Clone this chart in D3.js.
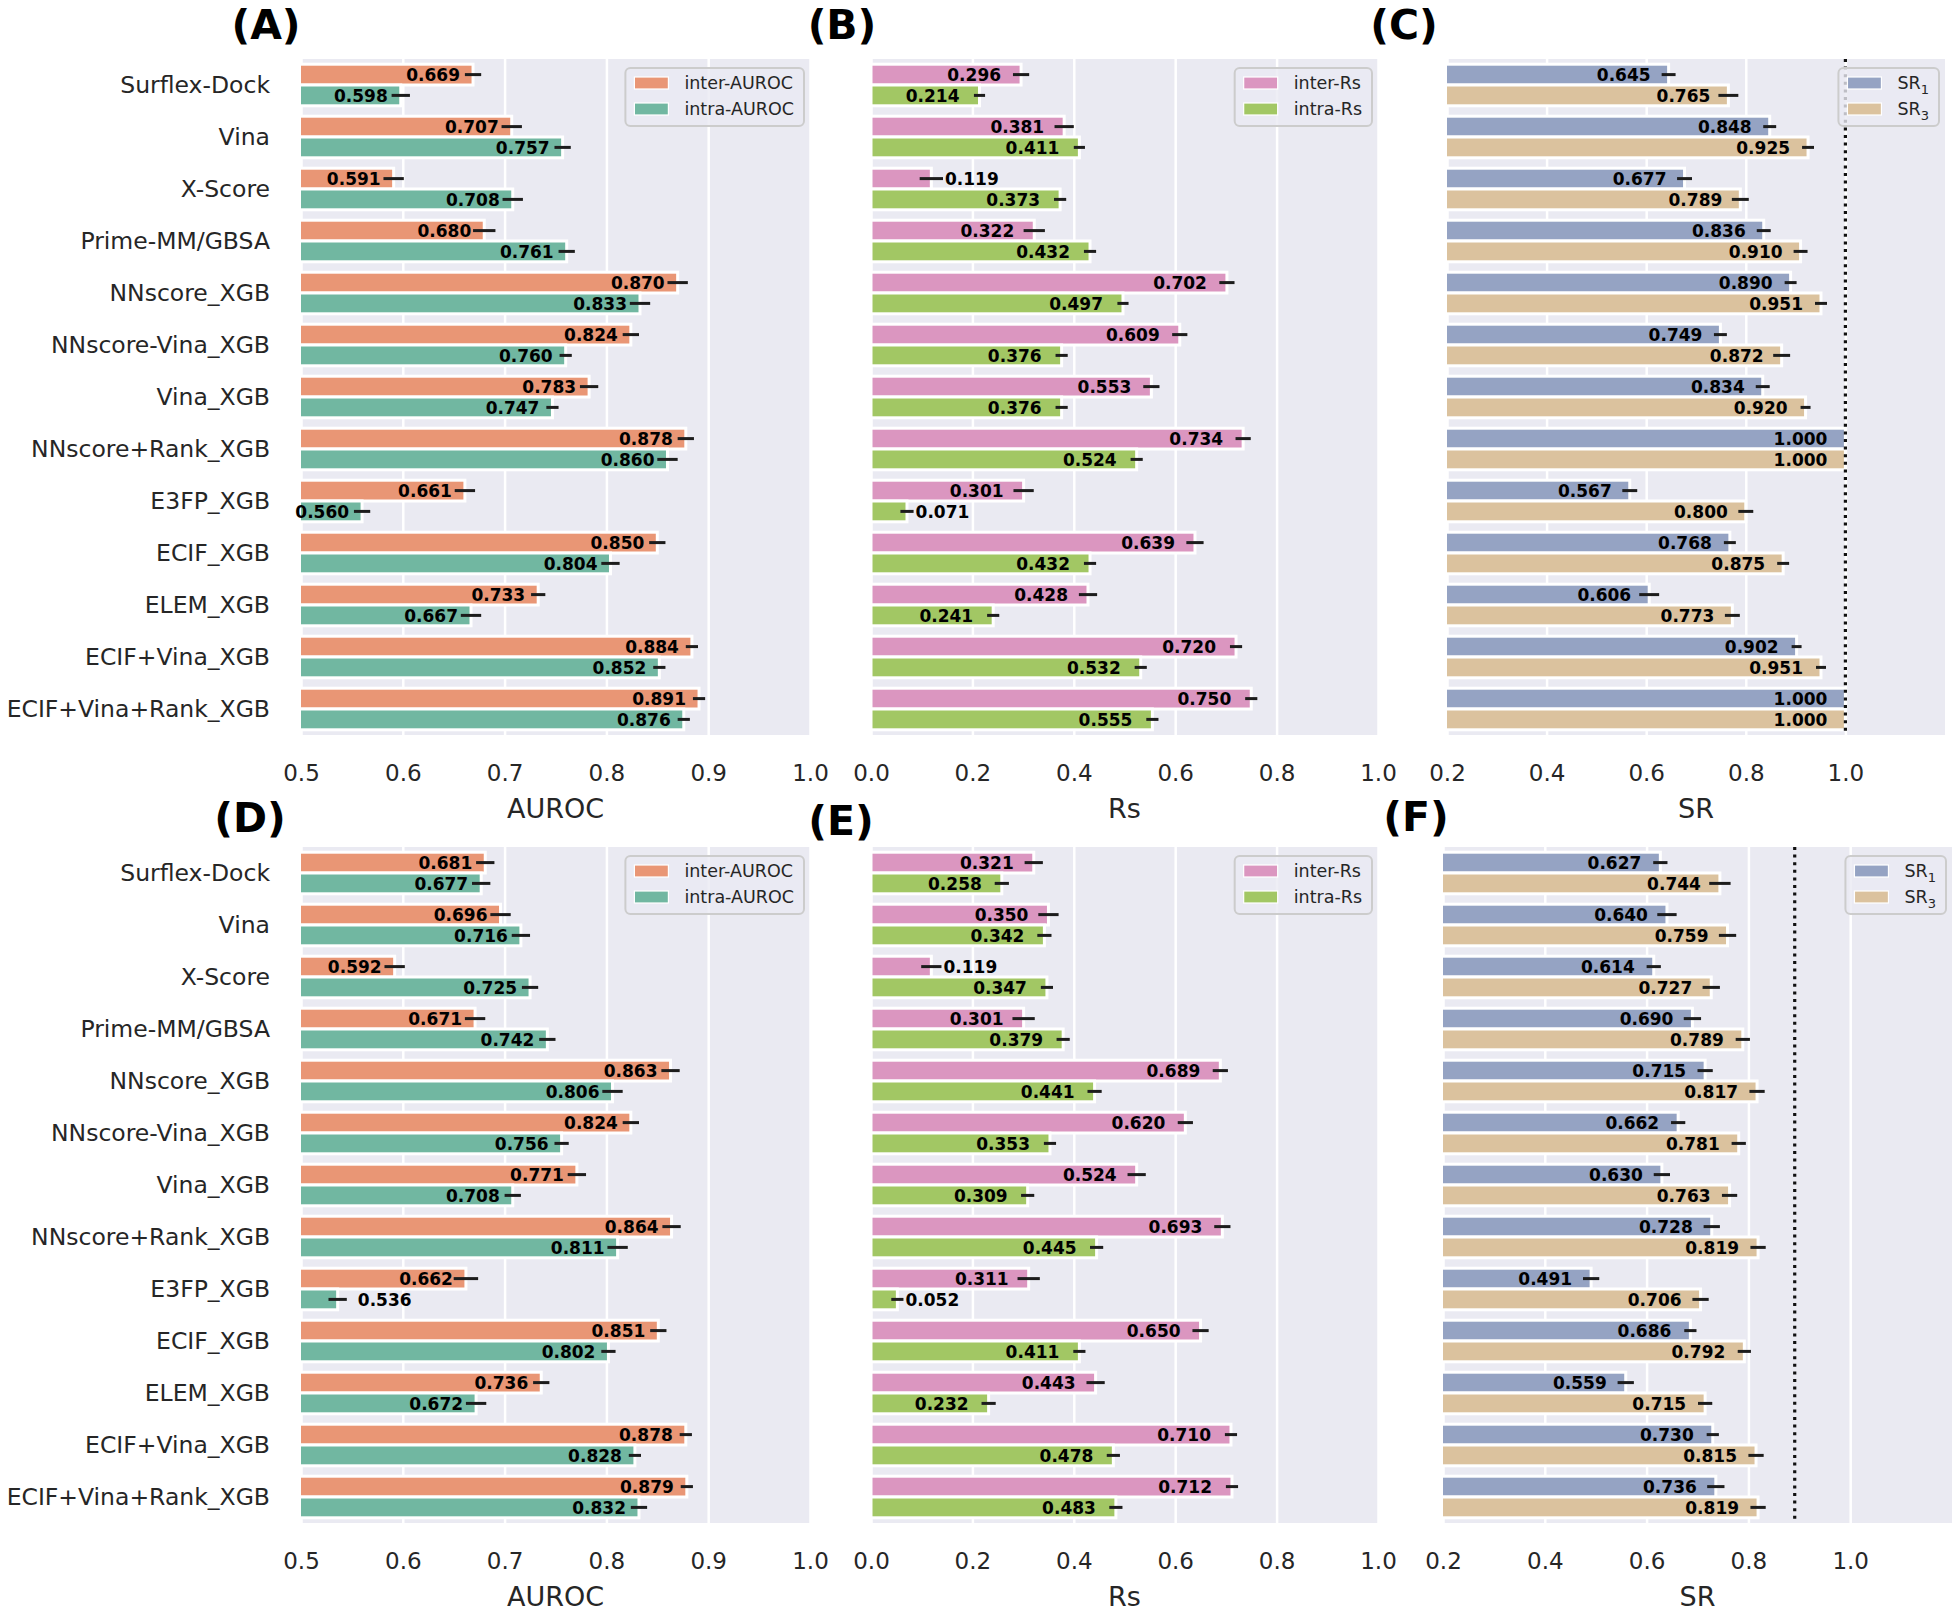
<!DOCTYPE html>
<html><head><meta charset="utf-8">
<script src="https://cdn.jsdelivr.net/npm/d3@7"></script>
<style>body{margin:0;background:#fff}svg{display:block}text{font-family:"DejaVu Sans",sans-serif}</style>
</head><body><svg id="chart" width="1960" height="1613"></svg>
<script>
// ---------------- data ----------------
const categories = ["Surflex-Dock","Vina","X-Score","Prime-MM/GBSA","NNscore_XGB","NNscore-Vina_XGB","Vina_XGB","NNscore+Rank_XGB","E3FP_XGB","ECIF_XGB","ELEM_XGB","ECIF+Vina_XGB","ECIF+Vina+Rank_XGB"];

// (A) AUROC, set 1
const aInter    = [0.669,0.707,0.591,0.680,0.870,0.824,0.783,0.878,0.661,0.850,0.733,0.884,0.891];
const aInterErr = [0.008,0.010,0.010,0.011,0.010,0.008,0.009,0.008,0.010,0.008,0.007,0.006,0.006];
const aIntra    = [0.598,0.757,0.708,0.761,0.833,0.760,0.747,0.860,0.560,0.804,0.667,0.852,0.876];
const aIntraErr = [0.009,0.008,0.010,0.008,0.010,0.006,0.006,0.010,0.008,0.009,0.010,0.006,0.006];
// (B) Rs, set 1
const bInter    = [0.296,0.381,0.119,0.322,0.702,0.609,0.553,0.734,0.301,0.639,0.428,0.720,0.750];
const bInterErr = [0.016,0.019,0.023,0.021,0.015,0.015,0.016,0.015,0.020,0.017,0.018,0.012,0.012];
const bIntra    = [0.214,0.411,0.373,0.432,0.497,0.376,0.376,0.524,0.071,0.432,0.241,0.532,0.555];
const bIntraErr = [0.011,0.011,0.012,0.012,0.011,0.012,0.012,0.012,0.013,0.012,0.012,0.012,0.012];
// (C) SR, set 1
const cSR1      = [0.645,0.848,0.677,0.836,0.890,0.749,0.834,1.000,0.567,0.768,0.606,0.902,1.000];
const cSR1Err   = [0.014,0.013,0.015,0.014,0.012,0.013,0.014,0.000,0.015,0.012,0.020,0.010,0.000];
const cSR3      = [0.765,0.925,0.789,0.910,0.951,0.872,0.920,1.000,0.800,0.875,0.773,0.951,1.000];
const cSR3Err   = [0.020,0.012,0.017,0.014,0.012,0.017,0.010,0.000,0.015,0.012,0.015,0.010,0.000];
// (D) AUROC, set 2
const dInter    = [0.681,0.696,0.592,0.671,0.863,0.824,0.771,0.864,0.662,0.851,0.736,0.878,0.879];
const dInterErr = [0.009,0.010,0.010,0.010,0.009,0.008,0.009,0.009,0.012,0.008,0.008,0.006,0.006];
const dIntra    = [0.677,0.716,0.725,0.742,0.806,0.756,0.708,0.811,0.536,0.802,0.672,0.828,0.832];
const dIntraErr = [0.009,0.009,0.008,0.008,0.010,0.007,0.008,0.010,0.009,0.007,0.010,0.006,0.008];
// (E) Rs, set 2
const eInter    = [0.321,0.350,0.119,0.301,0.689,0.620,0.524,0.693,0.311,0.650,0.443,0.710,0.712];
const eInterErr = [0.018,0.020,0.020,0.022,0.015,0.015,0.018,0.016,0.022,0.016,0.018,0.012,0.012];
const eIntra    = [0.258,0.342,0.347,0.379,0.441,0.353,0.309,0.445,0.052,0.411,0.232,0.478,0.483];
const eIntraErr = [0.014,0.014,0.012,0.013,0.014,0.012,0.013,0.013,0.012,0.012,0.014,0.013,0.013];
// (F) SR, set 2
const fSR1      = [0.627,0.640,0.614,0.690,0.715,0.662,0.630,0.728,0.491,0.686,0.559,0.730,0.736];
const fSR1Err   = [0.014,0.019,0.014,0.017,0.015,0.014,0.016,0.016,0.016,0.012,0.016,0.012,0.017];
const fSR3      = [0.744,0.759,0.727,0.789,0.817,0.781,0.763,0.819,0.706,0.792,0.715,0.815,0.819];
const fSR3Err   = [0.021,0.017,0.017,0.014,0.015,0.014,0.015,0.015,0.016,0.013,0.014,0.015,0.015];

const ticksAUROC = [0.5,0.6,0.7,0.8,0.9,1.0];
const ticksRs    = [0.0,0.2,0.4,0.6,0.8,1.0];
const ticksSR    = [0.2,0.4,0.6,0.8,1.0];
const namesAUROC = [["inter-AUROC",""],["intra-AUROC",""]];
const namesRs    = [["inter-Rs",""],["intra-Rs",""]];
const namesSR    = [["SR","1"],["SR","3"]];
const refLineC = 1.0;
const refLineF = 0.891;

// ---------------- layout / style ----------------
const colAUROC = ["#E99675","#71B7A1"];
const colRs    = ["#DB96C0","#A2C764"];
const colSR    = ["#95A3C3","#DBC29E"];
const BAND = 52;
const TOP1 = 59, TOP2 = 847;

const panels = [
  {letter:"(A)", lx:266, ly:26, x0:301, x1:810, y0:TOP1, domain:[0.5,1.0], ticks:ticksAUROC, title:"AUROC", names:namesAUROC, colors:colAUROC, vals:[aInter,aIntra], errs:[aInterErr,aIntraErr], labOff:13, outsideBelow:0.55, outGap:11, ylabels:true, ref:null},
  {letter:"(B)", lx:842, ly:26, x0:871, x1:1378, y0:TOP1, domain:[0.0,1.0], ticks:ticksRs, title:"Rs", names:namesRs, colors:colRs, vals:[bInter,bIntra], errs:[bInterErr,bIntraErr], labOff:20, outsideBelow:0.15, outGap:2, ylabels:false, ref:null},
  {letter:"(C)", lx:1404, ly:26, x0:1447, x1:1945, y0:TOP1, domain:[0.2,1.2], ticks:ticksSR, title:"SR", names:namesSR, colors:colSR, vals:[cSR1,cSR3], errs:[cSR1Err,cSR3Err], labOff:18, outsideBelow:0.3, outGap:4, ylabels:false, ref:refLineC},
  {letter:"(D)", lx:250, ly:819, x0:301, x1:810, y0:TOP2, domain:[0.5,1.0], ticks:ticksAUROC, title:"AUROC", names:namesAUROC, colors:colAUROC, vals:[dInter,dIntra], errs:[dInterErr,dIntraErr], labOff:13, outsideBelow:0.55, outGap:11, ylabels:true, ref:null},
  {letter:"(E)", lx:841, ly:822, x0:871, x1:1378, y0:TOP2, domain:[0.0,1.0], ticks:ticksRs, title:"Rs", names:namesRs, colors:colRs, vals:[eInter,eIntra], errs:[eInterErr,eIntraErr], labOff:20, outsideBelow:0.15, outGap:2, ylabels:false, ref:null},
  {letter:"(F)", lx:1416, ly:818, x0:1443, x1:1952, y0:TOP2, domain:[0.2,1.2], ticks:ticksSR, title:"SR", names:namesSR, colors:colSR, vals:[fSR1,fSR3], errs:[fSR1Err,fSR3Err], labOff:19, outsideBelow:0.3, outGap:4, ylabels:false, ref:refLineF}
];

const svg = d3.select("#chart");
const defs = svg.append("defs");

panels.forEach((p, pi) => {
  const H = BAND * categories.length;
  const y1 = p.y0 + H;
  const x = d3.scaleLinear().domain(p.domain).range([p.x0, p.x1]);
  const y = d3.scaleBand().domain(categories).range([p.y0, y1]);
  const sub = d3.scaleBand().domain([0,1]).range([0.1*y.bandwidth(), 0.9*y.bandwidth()]);
  const g = svg.append("g");

  // background
  g.append("rect").attr("x", p.x0).attr("y", p.y0).attr("width", p.x1 - p.x0).attr("height", H).attr("fill", "#EAEAF2");

  // grid
  const grid = g.append("g").attr("transform", `translate(0,${y1})`)
    .call(d3.axisBottom(x).tickValues(p.ticks).tickSize(-H).tickFormat(""));
  grid.select(".domain").remove();
  grid.selectAll(".tick line").attr("stroke", "#fff").attr("stroke-width", 2.5);

  // bars (clipped to the axes)
  const cid = "clip" + pi;
  defs.append("clipPath").attr("id", cid).append("rect")
    .attr("x", p.x0).attr("y", p.y0).attr("width", p.x1 - p.x0).attr("height", H);
  const bars = g.append("g").attr("clip-path", `url(#${cid})`);
  const base = Math.min(0, p.domain[0]);
  [0,1].forEach(s => {
    bars.selectAll(null).data(categories).join("rect")
      .attr("x", x(base))
      .attr("y", c => y(c) + sub(s))
      .attr("width", (c,i) => x(p.vals[s][i]) - x(base))
      .attr("height", sub.bandwidth())
      .attr("fill", p.colors[s])
      .attr("stroke", "#fff").attr("stroke-width", 3);
  });

  // reference dotted line
  if (p.ref !== null) {
    g.append("line").attr("x1", x(p.ref)).attr("x2", x(p.ref)).attr("y1", p.y0).attr("y2", y1)
      .attr("stroke", "#111").attr("stroke-width", 3.2).attr("stroke-dasharray", "3 4.6");
  }

  // error bars + value labels
  [0,1].forEach(s => {
    const cy = c => y(c) + sub(s) + sub.bandwidth()/2;
    const rows = categories.map((c,i)=>({c, v:p.vals[s][i], e:p.errs[s][i]}));
    g.append("g").selectAll("line").data(rows.filter(d=>d.e>0))
      .join("line")
      .attr("x1", d => x(d.v - d.e)).attr("x2", d => x(d.v + d.e))
      .attr("y1", d => cy(d.c)).attr("y2", d => cy(d.c))
      .attr("stroke", "#1c1c1c").attr("stroke-width", 3);
    g.append("g").selectAll("text").data(rows)
      .join("text")
      .attr("x", d => d.v < p.outsideBelow ? x(d.v + d.e) + p.outGap : x(d.v) - p.labOff)
      .attr("y", d => cy(d.c) + 6.2)
      .attr("text-anchor", d => d.v < p.outsideBelow ? "start" : "end")
      .attr("font-size", 17).attr("font-weight", "bold").attr("fill", "#000")
      .text(d => d3.format(".3f")(d.v));
  });

  // x axis
  const ax = g.append("g").attr("transform", `translate(0,${y1})`)
    .call(d3.axisBottom(x).tickValues(p.ticks).tickSize(0).tickPadding(30).tickFormat(d3.format(".1f")));
  ax.select(".domain").remove();
  ax.selectAll("text").attr("font-size", 23).attr("fill", "#262626").attr("font-family", "DejaVu Sans");

  g.append("text").attr("x", (p.x0 + p.x1)/2).attr("y", y1 + 83).attr("text-anchor", "middle")
    .attr("font-size", 27).attr("fill", "#262626").text(p.title);

  // y axis labels
  if (p.ylabels) {
    const ay = g.append("g").attr("transform", `translate(${p.x0},0)`)
      .call(d3.axisLeft(y).tickSize(0).tickPadding(31));
    ay.select(".domain").remove();
    ay.selectAll("text").attr("font-size", 23.5).attr("fill", "#262626").attr("font-family", "DejaVu Sans");
  }

  // panel letter
  svg.append("text").attr("x", p.lx).attr("y", p.ly + 12.5).attr("text-anchor", "middle")
    .attr("font-family", "Liberation Sans").attr("font-weight", "bold")
    .attr("font-size", 41).attr("fill", "#000").text(p.letter);

  // legend
  const lg = g.append("g");
  const box = lg.append("rect").attr("rx", 5).attr("ry", 5)
    .attr("fill", "#EAEAF2").attr("fill-opacity", 0.8).attr("stroke", "#cccccc").attr("stroke-width", 2);
  let maxW = 0;
  const items = [];
  p.names.forEach((nm, s) => {
    const ry = p.y0 + 9 + 15 + s*26;
    lg.append("rect").attr("y", ry - 6).attr("width", 34).attr("height", 12)
      .attr("fill", p.colors[s]).attr("stroke", "#fff").attr("stroke-width", 1.2).attr("class", "lp");
    const t = lg.append("text").attr("y", ry + 6.3).attr("font-size", 17.5).attr("fill", "#262626");
    t.append("tspan").text(nm[0]);
    if (nm[1]) t.append("tspan").attr("font-size", 13).attr("dy", 5).text(nm[1]);
    maxW = Math.max(maxW, t.node().getComputedTextLength());
    items.push(t);
  });
  const bw = 9 + 34 + 16 + maxW + 10;
  const bx = p.x1 - 6 - bw;
  box.attr("x", bx).attr("y", p.y0 + 9).attr("width", bw).attr("height", 58);
  lg.selectAll(".lp").attr("x", bx + 9);
  items.forEach(t => t.attr("x", bx + 9 + 34 + 16));
});
</script></body></html>
